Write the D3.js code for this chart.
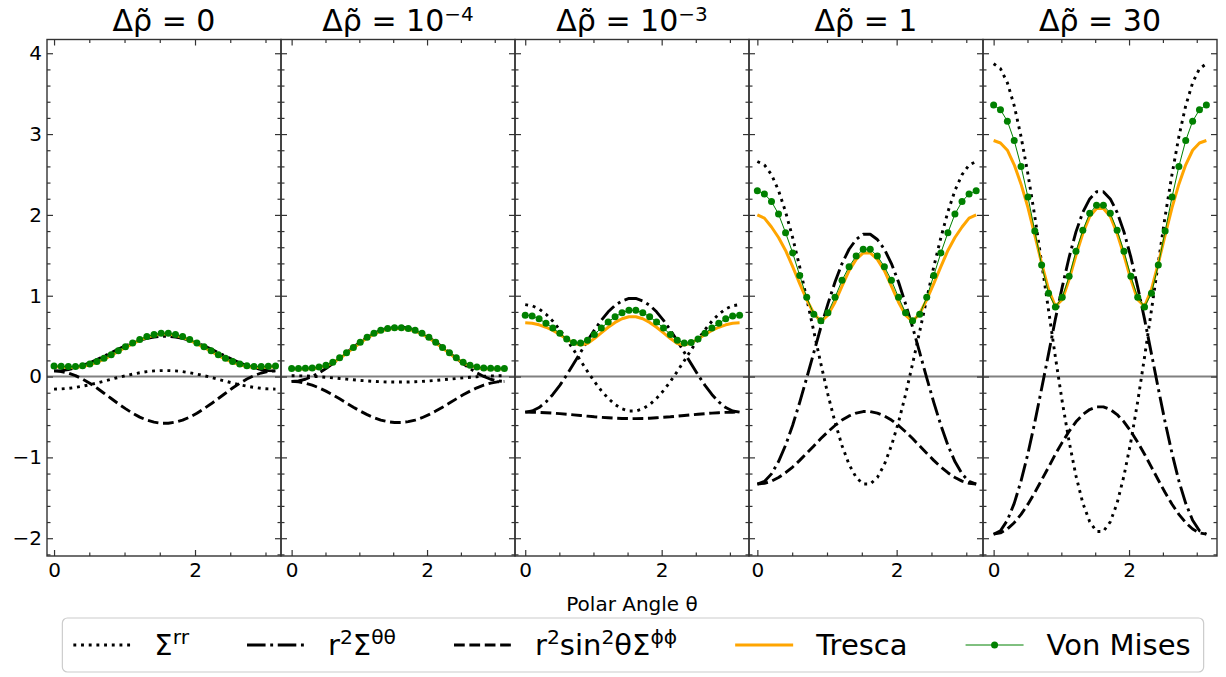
<!DOCTYPE html>
<html><head><meta charset="utf-8">
<script src="https://cdnjs.cloudflare.com/ajax/libs/d3/7.8.5/d3.min.js"></script>
<style>body{margin:0;background:#fff}svg{display:block}text{font-family:"DejaVu Sans",sans-serif;fill:#000}</style>
</head><body><svg id="c" width="1226" height="677"></svg>
<script>
// ---------- data ----------
const theta = [0.000,0.101,0.203,0.304,0.405,0.507,0.608,0.709,0.811,0.912,1.013,1.115,1.216,1.317,1.419,1.520,1.621,1.723,1.824,1.925,2.027,2.128,2.229,2.331,2.432,2.533,2.635,2.736,2.837,2.939,3.040,3.142];
const titleBase = ["0","10","10","1","30"];
const titleExp  = ["","−4","−3","",""];
const yTickValues = [-2,-1,0,1,2,3,4];
const xTickValues = [0,2];

// Δρ̃ = 0
const rr0 = [-0.155,-0.153,-0.146,-0.134,-0.119,-0.101,-0.080,-0.057,-0.034,-0.011,0.011,0.030,0.047,0.061,0.070,0.074,0.074,0.070,0.061,0.047,0.030,0.011,-0.011,-0.034,-0.057,-0.080,-0.101,-0.119,-0.134,-0.146,-0.153,-0.155];
const tt0 = [0.070,0.074,0.087,0.109,0.137,0.171,0.210,0.252,0.296,0.339,0.379,0.417,0.448,0.473,0.490,0.499,0.499,0.490,0.473,0.448,0.417,0.379,0.339,0.296,0.252,0.210,0.171,0.137,0.109,0.087,0.074,0.070];
const pp0 = [0.070,0.063,0.044,0.012,-0.031,-0.083,-0.142,-0.206,-0.271,-0.337,-0.397,-0.454,-0.502,-0.539,-0.564,-0.578,-0.578,-0.564,-0.539,-0.502,-0.454,-0.397,-0.337,-0.271,-0.206,-0.142,-0.083,-0.031,0.012,0.044,0.063,0.070];
const tr0 = [0.120,0.117,0.113,0.115,0.125,0.145,0.175,0.215,0.260,0.310,0.360,0.405,0.450,0.485,0.510,0.525,0.525,0.510,0.485,0.450,0.405,0.360,0.310,0.260,0.215,0.175,0.145,0.125,0.115,0.113,0.117,0.120];
const vm0 = [0.130,0.127,0.123,0.125,0.135,0.155,0.185,0.225,0.270,0.320,0.370,0.415,0.460,0.495,0.520,0.535,0.535,0.520,0.495,0.460,0.415,0.370,0.320,0.270,0.225,0.185,0.155,0.135,0.125,0.123,0.127,0.130];
// Δρ̃ = 1e-4
const rr1 = [0.010,0.009,0.007,0.003,-0.002,-0.009,-0.016,-0.024,-0.032,-0.040,-0.048,-0.054,-0.060,-0.064,-0.067,-0.068,-0.068,-0.067,-0.064,-0.060,-0.054,-0.048,-0.040,-0.032,-0.024,-0.016,-0.009,-0.002,0.003,0.007,0.009,0.010];
const tt1 = [-0.060,-0.053,-0.033,0.001,0.045,0.099,0.160,0.226,0.294,0.363,0.425,0.484,0.534,0.573,0.599,0.613,0.613,0.599,0.573,0.534,0.484,0.425,0.363,0.294,0.226,0.160,0.099,0.045,0.001,-0.033,-0.053,-0.060];
const pp1 = [-0.060,-0.065,-0.081,-0.106,-0.139,-0.180,-0.226,-0.276,-0.328,-0.379,-0.427,-0.471,-0.509,-0.538,-0.558,-0.568,-0.568,-0.558,-0.538,-0.509,-0.471,-0.427,-0.379,-0.328,-0.276,-0.226,-0.180,-0.139,-0.106,-0.081,-0.065,-0.060];
const tr1 = [0.093,0.093,0.095,0.100,0.110,0.132,0.170,0.224,0.287,0.352,0.417,0.476,0.526,0.563,0.586,0.596,0.596,0.586,0.563,0.526,0.476,0.417,0.352,0.287,0.224,0.170,0.132,0.110,0.100,0.095,0.093,0.093];
const vm1 = [0.100,0.100,0.102,0.107,0.118,0.140,0.178,0.232,0.295,0.360,0.425,0.485,0.535,0.572,0.595,0.605,0.605,0.595,0.572,0.535,0.485,0.425,0.360,0.295,0.232,0.178,0.140,0.118,0.107,0.102,0.100,0.100];
// Δρ̃ = 1e-3
const rr2 = [0.890,0.876,0.837,0.772,0.685,0.579,0.460,0.330,0.196,0.064,-0.061,-0.174,-0.270,-0.347,-0.400,-0.427,-0.427,-0.400,-0.347,-0.270,-0.174,-0.061,0.064,0.196,0.330,0.460,0.579,0.685,0.772,0.837,0.876,0.890];
const tt2 = [-0.440,-0.426,-0.383,-0.314,-0.221,-0.109,0.020,0.158,0.300,0.443,0.574,0.696,0.801,0.881,0.936,0.966,0.966,0.936,0.881,0.801,0.696,0.574,0.443,0.300,0.158,0.020,-0.109,-0.221,-0.314,-0.383,-0.426,-0.440];
const pp2 = [-0.440,-0.441,-0.443,-0.447,-0.452,-0.459,-0.466,-0.474,-0.482,-0.490,-0.498,-0.504,-0.510,-0.515,-0.518,-0.520,-0.520,-0.518,-0.515,-0.510,-0.504,-0.498,-0.490,-0.482,-0.474,-0.466,-0.459,-0.452,-0.447,-0.443,-0.441,-0.440];
const tr2 = [0.665,0.660,0.640,0.610,0.570,0.520,0.465,0.415,0.390,0.410,0.470,0.540,0.610,0.670,0.715,0.740,0.740,0.715,0.670,0.610,0.540,0.470,0.410,0.390,0.415,0.465,0.520,0.570,0.610,0.640,0.660,0.665];
const vm2 = [0.760,0.750,0.715,0.660,0.600,0.535,0.465,0.420,0.415,0.450,0.520,0.600,0.675,0.740,0.790,0.820,0.820,0.790,0.740,0.675,0.600,0.520,0.450,0.415,0.420,0.465,0.535,0.600,0.660,0.715,0.750,0.760];
// Δρ̃ = 1
const rr3 = [2.660,2.618,2.498,2.302,2.038,1.718,1.358,0.962,0.558,0.158,-0.222,-0.564,-0.856,-1.088,-1.248,-1.330,-1.330,-1.248,-1.088,-0.856,-0.564,-0.222,0.158,0.558,0.962,1.358,1.718,2.038,2.302,2.498,2.618,2.660];
const tt3 = [-1.330,-1.298,-1.204,-1.052,-0.850,-0.602,-0.319,-0.016,0.298,0.611,0.899,1.169,1.398,1.575,1.696,1.761,1.761,1.696,1.575,1.398,1.169,0.899,0.611,0.298,-0.016,-0.319,-0.602,-0.850,-1.052,-1.204,-1.298,-1.330];
const pp3 = [-1.330,-1.321,-1.294,-1.249,-1.190,-1.119,-1.037,-0.948,-0.858,-0.767,-0.683,-0.605,-0.538,-0.487,-0.452,-0.433,-0.433,-0.452,-0.487,-0.538,-0.605,-0.683,-0.767,-0.858,-0.948,-1.037,-1.119,-1.190,-1.249,-1.294,-1.321,-1.330];
const tr3 = [2.000,1.960,1.850,1.720,1.560,1.360,1.150,0.950,0.780,0.680,0.760,0.920,1.120,1.310,1.450,1.530,1.530,1.450,1.310,1.120,0.920,0.760,0.680,0.780,0.950,1.150,1.360,1.560,1.720,1.850,1.960,2.000];
const vm3 = [2.300,2.260,2.165,2.010,1.780,1.530,1.250,0.980,0.770,0.690,0.790,0.980,1.190,1.360,1.490,1.575,1.575,1.490,1.360,1.190,0.980,0.790,0.690,0.770,0.980,1.250,1.530,1.780,2.010,2.165,2.260,2.300];
// Δρ̃ = 30
const rr4 = [3.870,3.809,3.635,3.351,2.968,2.504,1.982,1.408,0.822,0.242,-0.309,-0.805,-1.228,-1.565,-1.797,-1.916,-1.916,-1.797,-1.565,-1.228,-0.805,-0.309,0.242,0.822,1.408,1.982,2.504,2.968,3.351,3.635,3.809,3.870];
const tt4 = [-1.950,-1.907,-1.778,-1.569,-1.291,-0.951,-0.565,-0.148,0.281,0.711,1.106,1.476,1.790,2.032,2.198,2.287,2.287,2.198,2.032,1.790,1.476,1.106,0.711,0.281,-0.148,-0.565,-0.951,-1.291,-1.569,-1.778,-1.907,-1.950];
const pp4 = [-1.950,-1.934,-1.886,-1.808,-1.705,-1.579,-1.435,-1.280,-1.121,-0.961,-0.814,-0.677,-0.560,-0.470,-0.408,-0.375,-0.375,-0.408,-0.470,-0.560,-0.677,-0.814,-0.961,-1.121,-1.280,-1.435,-1.579,-1.705,-1.808,-1.886,-1.934,-1.950];
const tr4 = [2.920,2.890,2.800,2.620,2.380,2.090,1.750,1.400,1.080,0.870,0.950,1.200,1.500,1.770,1.980,2.080,2.080,1.980,1.770,1.500,1.200,0.950,0.870,1.080,1.400,1.750,2.090,2.380,2.620,2.800,2.890,2.920];
const vm4 = [3.360,3.300,3.160,2.920,2.600,2.220,1.800,1.380,1.030,0.860,0.980,1.240,1.550,1.810,2.020,2.120,2.120,2.020,1.810,1.550,1.240,0.980,0.860,1.030,1.380,1.800,2.220,2.600,2.920,3.160,3.300,3.360];

const panels = [
  {rr:rr0, tt:tt0, pp:pp0, tr:tr0, vm:vm0},
  {rr:rr1, tt:tt1, pp:pp1, tr:tr1, vm:vm1},
  {rr:rr2, tt:tt2, pp:pp2, tr:tr2, vm:vm2},
  {rr:rr3, tt:tt3, pp:pp3, tr:tr3, vm:vm3},
  {rr:rr4, tt:tt4, pp:pp4, tr:tr4, vm:vm4}
];

// ---------- layout ----------
const LEFT=47, RIGHT=1217, TOP=39.5, BOTTOM=556;
const PW=(RIGHT-LEFT)/panels.length;
const xDomains=[[-0.10,3.22],[-0.157,3.299],[-0.15,3.28],[-0.12,3.24],[-0.157,3.299]];
const LW=2.9;
const styles = {
  rr:{stroke:"#000", w:LW, dash:[1*LW,1.65*LW]},
  tt:{stroke:"#000", w:LW, dash:[6.4*LW,1.6*LW,1*LW,1.6*LW]},
  pp:{stroke:"#000", w:LW, dash:[3.7*LW,1.6*LW]},
  tr:{stroke:"#ffa500", w:3, dash:null},
  vm:{stroke:"#008000", w:1, dash:null}
};

const svg=d3.select("#c");
const y=d3.scaleLinear().domain([-2.22,4.17]).range([BOTTOM,TOP]);
const minus = d => (d<0?"\u2212":"")+Math.abs(d);
const yMinor = d3.range(-22,42).map(v=>v/10).filter(v=>Math.abs(v*5-Math.round(v*5))<1e-9 && Math.abs(v-Math.round(v))>1e-9 && v>=-2.22 && v<=4.17);
const xMinor=[0.5,1,1.5,2.5,3];

panels.forEach((p,i)=>{
  const x0=LEFT+i*PW;
  const x=d3.scaleLinear().domain(xDomains[i]).range([x0,x0+PW]);
  const g=svg.append("g");
  g.append("line").attr("x1",x0).attr("x2",x0+PW).attr("y1",y(0)).attr("y2",y(0))
    .attr("stroke","#808080").attr("stroke-width",2);
  const line=d3.line().x((d,j)=>x(theta[j])).y(d=>y(d));
  ["rr","tt","pp","tr","vm"].forEach(k=>{
    const s=styles[k];
    g.append("path").attr("d",line(p[k])).attr("fill","none")
      .attr("stroke",s.stroke).attr("stroke-width",s.w)
      .attr("stroke-dasharray",s.dash?s.dash.join(","):null)
      .attr("stroke-linejoin","round");
  });
  g.selectAll("circle.vm").data(p.vm).join("circle").attr("class","vm")
    .attr("cx",(d,j)=>x(theta[j])).attr("cy",d=>y(d)).attr("r",3.5).attr("fill","#008000");

  // axes (ticks inward)
  const styleAxis = sel => { sel.select(".domain").remove(); sel.selectAll("line").attr("stroke","#333").attr("stroke-width",1.2); sel.selectAll("text").attr("font-size",20).attr("font-family","DejaVu Sans").attr("fill","#000"); };
  g.append("g").attr("transform",`translate(${x0},0)`)
    .call(d3.axisLeft(y).tickValues(yTickValues).tickSize(-6).tickPadding(5).tickFormat(i===0?minus:()=>"")).call(styleAxis);
  g.append("g").attr("transform",`translate(${x0},0)`)
    .call(d3.axisLeft(y).tickValues(yMinor).tickSize(-3.5).tickFormat(()=>"")).call(styleAxis);
  g.append("g").attr("transform",`translate(${x0+PW},0)`)
    .call(d3.axisRight(y).tickValues(yTickValues).tickSize(-6).tickFormat(()=>"")).call(styleAxis);
  g.append("g").attr("transform",`translate(${x0+PW},0)`)
    .call(d3.axisRight(y).tickValues(yMinor).tickSize(-3.5).tickFormat(()=>"")).call(styleAxis);
  g.append("g").attr("transform",`translate(0,${BOTTOM})`)
    .call(d3.axisBottom(x).tickValues(xTickValues).tickSize(-6).tickPadding(7).tickFormat(minus)).call(styleAxis);
  g.append("g").attr("transform",`translate(0,${BOTTOM})`)
    .call(d3.axisBottom(x).tickValues(xMinor).tickSize(-3.5).tickFormat(()=>"")).call(styleAxis);
  g.append("g").attr("transform",`translate(0,${TOP})`)
    .call(d3.axisTop(x).tickValues(xTickValues).tickSize(-6).tickFormat(()=>"")).call(styleAxis);
  g.append("g").attr("transform",`translate(0,${TOP})`)
    .call(d3.axisTop(x).tickValues(xMinor).tickSize(-3.5).tickFormat(()=>"")).call(styleAxis);

  g.append("rect").attr("x",x0).attr("y",TOP).attr("width",PW).attr("height",BOTTOM-TOP)
    .attr("fill","none").attr("stroke","#333").attr("stroke-width",1.4);

  // title
  const t=svg.append("text").attr("x",x0+PW/2).attr("y",31).attr("text-anchor","middle").attr("font-size",30);
  t.append("tspan").text("\u0394\u03C1\u0303 = "+titleBase[i]);
  if(titleExp[i]) t.append("tspan").attr("font-size",20).attr("dy",-10).text(titleExp[i]);
});

// x label
svg.append("text").attr("x",(LEFT+RIGHT)/2).attr("y",611).attr("text-anchor","middle").attr("font-size",20).text("Polar Angle \u03B8");

// ---------- legend ----------
const legendItems = [
  {k:"rr", parts:[["\u03A3"],["rr",1]]},
  {k:"tt", parts:[["r"],["2",1],["\u03A3"],["\u03B8\u03B8",1]]},
  {k:"pp", parts:[["r"],["2",1],["sin"],["2",1],["\u03B8\u03A3"],["\u03D5\u03D5",1]]},
  {k:"tr", parts:[["Tresca"]]},
  {k:"vm", parts:[["Von Mises"]]}
];
const FS=29, HL=58, HP=23, CS=58;
const lg=svg.append("g");
const box=lg.append("rect");
const LY=645;
let cx=0;
const itemsG=lg.append("g");
legendItems.forEach(it=>{
  const s=styles[it.k];
  itemsG.append("line").attr("x1",cx).attr("x2",cx+HL).attr("y1",LY).attr("y2",LY)
    .attr("stroke",s.stroke).attr("stroke-width",s.w).attr("stroke-dasharray",s.dash?s.dash.join(","):null);
  if(it.k==="vm") itemsG.append("circle").attr("cx",cx+HL/2).attr("cy",LY).attr("r",3.5).attr("fill","#008000");
  const tx=itemsG.append("text").attr("x",cx+HL+HP).attr("y",LY+10).attr("font-size",FS);
  let sup=false;
  it.parts.forEach(([str,isSup])=>{
    const ts=tx.append("tspan").text(str);
    if(isSup && !sup){ts.attr("font-size",FS*0.7).attr("dy",-11); sup=true;}
    else if(!isSup && sup){ts.attr("dy",11); sup=false;}
    else if(isSup) ts.attr("font-size",FS*0.7);
  });
  const w=tx.node().getComputedTextLength();
  cx += HL+HP+w+CS;
});
const totalW = cx-CS;
const bx = (LEFT+RIGHT)/2 - totalW/2;
itemsG.attr("transform",`translate(${bx},0)`);
box.attr("x",bx-11).attr("y",618).attr("width",totalW+24).attr("height",54).attr("rx",5)
  .attr("fill","#fff").attr("stroke","#cccccc").attr("stroke-width",1.2);
</script></body></html>
